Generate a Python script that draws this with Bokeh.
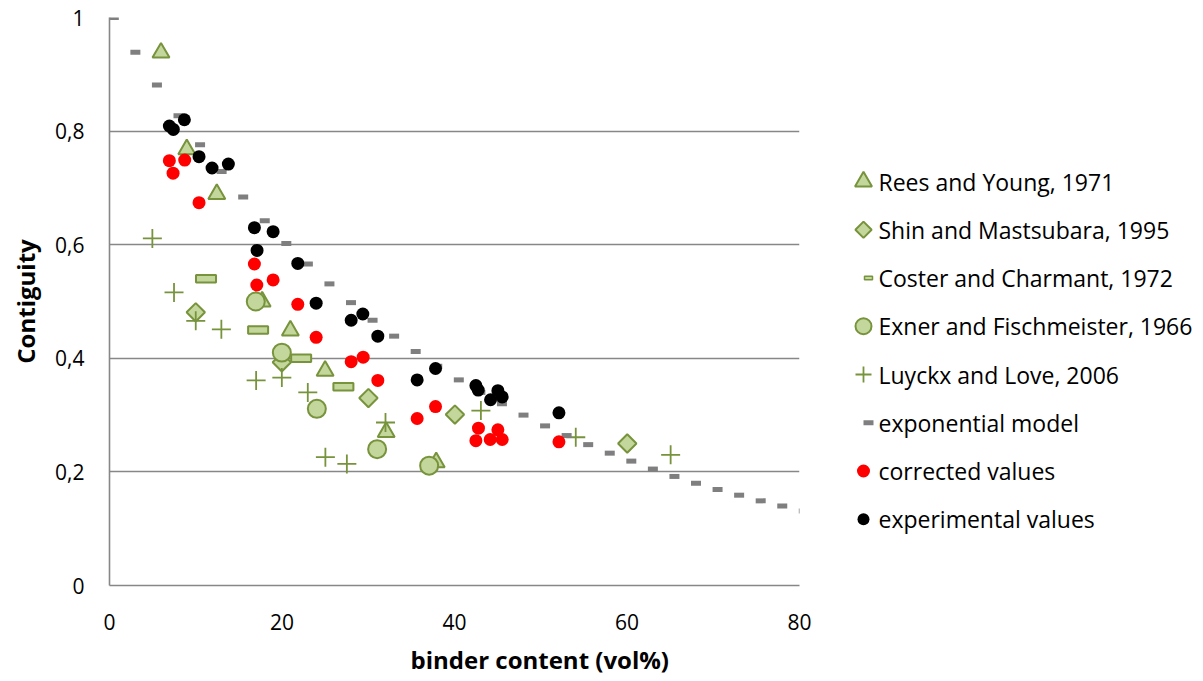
import math
from bokeh.plotting import figure
from bokeh.models import Range1d, FixedTicker, Title
from bokeh.layouts import row
from bokeh.core.properties import value
from bokeh.embed import file_html
from bokeh.resources import INLINE

# ---------------- data ----------------
series_names = ["Rees and Young, 1971", "Shin and Mastsubara, 1995",
                "Coster and Charmant, 1972", "Exner and Fischmeister, 1966",
                "Luyckx and Love, 2006", "exponential model",
                "corrected values", "experimental values"]

rees_x = [5.97, 8.96, 12.44, 17.7, 20.97, 25.0, 32.08, 37.88]
rees_y = [0.938, 0.768, 0.689, 0.50, 0.449, 0.378, 0.270, 0.217]

shin_x = [10.0, 19.98, 30.02, 40.05, 60.03]
shin_y = [0.481, 0.393, 0.330, 0.301, 0.250]

coster_x = [11.19, 17.23, 22.22, 27.12]
coster_y = [0.540, 0.450, 0.400, 0.350]

exner_x = [16.96, 19.98, 24.04, 31.03, 37.06]
exner_y = [0.500, 0.410, 0.311, 0.240, 0.211]

luyckx_x = [4.97, 7.48, 10.0, 12.97, 17.0, 19.98, 22.99, 25.03, 27.52, 32.0, 43.06, 54.06, 65.06]
luyckx_y = [0.611, 0.516, 0.466, 0.451, 0.361, 0.366, 0.340, 0.226, 0.214, 0.287, 0.308, 0.261, 0.230]

model_x = [0.5, 3.0, 5.5, 8.0, 10.5, 13.0, 15.5, 18.0, 20.5, 23.0, 25.5, 28.0, 30.5,
           33.0, 35.5, 38.0, 40.5, 43.0, 45.5, 48.0, 50.5, 53.0, 55.5, 58.0, 60.5,
           63.0, 65.5, 68.0, 70.5, 73.0, 75.5, 78.0, 80.5]
model_y = [1.0, 0.939, 0.881, 0.827, 0.776, 0.729, 0.684, 0.642, 0.602, 0.566, 0.531,
           0.498, 0.467, 0.439, 0.412, 0.386, 0.362, 0.340, 0.320, 0.300, 0.281, 0.264,
           0.248, 0.233, 0.219, 0.205, 0.192, 0.180, 0.169, 0.159, 0.149, 0.140, 0.131]

corr_x = [6.94, 7.37, 8.72, 10.38, 16.80, 17.08, 18.97, 21.83, 23.96, 28.02, 29.41,
          31.11, 35.67, 37.80, 42.78, 42.48, 44.14, 45.03, 45.53, 52.11]
corr_y = [0.748, 0.726, 0.749, 0.674, 0.566, 0.529, 0.538, 0.495, 0.437, 0.394, 0.402,
          0.361, 0.294, 0.315, 0.277, 0.255, 0.257, 0.274, 0.257, 0.253]

expe_x = [6.94, 7.40, 8.68, 10.38, 11.89, 13.78, 16.80, 18.97, 17.11, 21.83, 23.96,
          28.02, 29.37, 31.11, 35.67, 37.80, 42.48, 42.75, 45.03, 45.53, 44.18, 52.11]
expe_y = [0.809, 0.803, 0.820, 0.755, 0.735, 0.742, 0.630, 0.623, 0.590, 0.567, 0.497,
          0.467, 0.478, 0.439, 0.362, 0.382, 0.352, 0.344, 0.343, 0.332, 0.327, 0.304]

x_ticks = [0, 20, 40, 60, 80]
x_tick_labels = ["0", "20", "40", "60", "80"]
y_ticks = [0, 0.2, 0.4, 0.6, 0.8, 1.0]
y_tick_labels = ["0", "0,2", "0,4", "0,6", "0,8", "1"]

# ---------------- style ----------------
FONT = "Open Sans"
G_FILL = "#C3D69B"
G_LINE = "#77933C"
GRID = "#878787"
TOTAL_H = 680

p = figure(frame_width=690, frame_height=568, min_border_left=109, min_border_right=15,
           min_border_top=17, min_border_bottom=TOTAL_H - 17 - 568,
           x_range=Range1d(0, 80), y_range=Range1d(0, 1), title=None,
           output_backend="svg", toolbar_location=None, tools="")
p.outline_line_color = None
p.background_fill_color = "white"
p.border_fill_color = "white"

p.xgrid.visible = False
p.ygrid.ticker = FixedTicker(ticks=y_ticks)
p.ygrid.grid_line_color = GRID
p.ygrid.grid_line_width = 1.6

p.xaxis.ticker = FixedTicker(ticks=x_ticks)
p.xaxis.major_label_overrides = {t: l for t, l in zip(x_ticks, x_tick_labels)}
p.yaxis.ticker = FixedTicker(ticks=y_ticks)
p.yaxis.major_label_overrides = {t: l for t, l in zip(y_ticks, y_tick_labels)}

for ax in (p.xaxis[0], p.yaxis[0]):
    ax.axis_line_color = GRID
    ax.axis_line_width = 1.6
    ax.major_tick_in = 0
    ax.major_tick_out = 0
    ax.minor_tick_in = 0
    ax.minor_tick_out = 0
    ax.major_label_text_font = FONT
    ax.major_label_text_font_size = "21px"
    ax.major_label_text_color = "black"

p.xaxis.major_label_standoff = 28
p.yaxis.major_label_standoff = 25
p.yaxis.axis_label = "Contiguity"
p.yaxis.axis_label_text_font = FONT
p.yaxis.axis_label_text_font_size = "24px"
p.yaxis.axis_label_text_font_style = "bold"
p.yaxis.axis_label_text_color = "black"
p.yaxis.axis_label_standoff = 10

p.add_layout(Title(text="binder content (vol%)", align="left", offset=301,
                   text_font=FONT, text_font_size="24px", text_font_style="bold",
                   text_color="black", standoff=16), "below")

# ---------------- series ----------------
p.scatter(rees_x, rees_y, marker="triangle", size=17, fill_color=G_FILL,
          line_color=G_LINE, line_width=2)
p.scatter(shin_x, shin_y, marker="square", angle=math.pi / 4, size=13,
          fill_color=G_FILL, line_color=G_LINE, line_width=2)
p.rect(coster_x, coster_y, width=20, height=7.5, width_units="screen",
       height_units="screen", fill_color=G_FILL, line_color=G_LINE, line_width=2)
p.scatter(exner_x, exner_y, marker="circle", size=18, fill_color=G_FILL,
          line_color=G_LINE, line_width=2)
p.scatter(luyckx_x, luyckx_y, marker="cross", size=19, line_color=G_LINE, line_width=1.8)
p.rect(model_x, model_y, width=10, height=5, width_units="screen",
       height_units="screen", fill_color="#7F7F7F", line_color=None)
p.scatter(corr_x, corr_y, marker="circle", size=13, fill_color="#FF0000", line_color=None)
p.scatter(expe_x, expe_y, marker="circle", size=13, fill_color="#000000", line_color=None)

# ---------------- legend (separate panel) ----------------
LW = 1203 - (109 + 690 + 15) - 1
lg = figure(frame_width=LW, frame_height=TOTAL_H, min_border=0,
            x_range=Range1d(0, LW), y_range=Range1d(TOTAL_H, 0),
            x_axis_type=None, y_axis_type=None, title=None,
            output_backend="svg", toolbar_location=None, tools="")
lg.outline_line_color = None
lg.grid.visible = False
lg.background_fill_color = "white"
lg.border_fill_color = "white"

top, step = 164.0, 48.25
ys = [top + i * step for i in range(len(series_names))]
mx, tx = 49, 64

lg.scatter([mx], [ys[0]], marker="triangle", size=17, fill_color=G_FILL, line_color=G_LINE, line_width=2)
lg.scatter([mx], [ys[1]], marker="square", angle=math.pi / 4, size=11.5, fill_color=G_FILL, line_color=G_LINE, line_width=2)
lg.rect([mx + 5], [ys[2]], width=8, height=3.5, width_units="screen", height_units="screen",
        fill_color=G_FILL, line_color=G_LINE, line_width=1.5)
lg.scatter([mx], [ys[3]], marker="circle", size=16, fill_color=G_FILL, line_color=G_LINE, line_width=2)
lg.scatter([mx], [ys[4]], marker="cross", size=16, line_color=G_LINE, line_width=1.8)
lg.rect([mx + 5], [ys[5]], width=10, height=5, width_units="screen", height_units="screen",
        fill_color="#7F7F7F", line_color=None)
lg.scatter([mx], [ys[6]], marker="circle", size=13, fill_color="#FF0000", line_color=None)
lg.scatter([mx], [ys[7]], marker="circle", size=12, fill_color="#000000", line_color=None)

lg.text(x=[tx] * len(series_names), y=ys, text=series_names, text_font=value(FONT),
        text_font_size="23px", text_baseline="middle", text_align="left", text_color="black")

layout = row(p, lg)
open("out.html", "w").write(file_html(layout, INLINE))
